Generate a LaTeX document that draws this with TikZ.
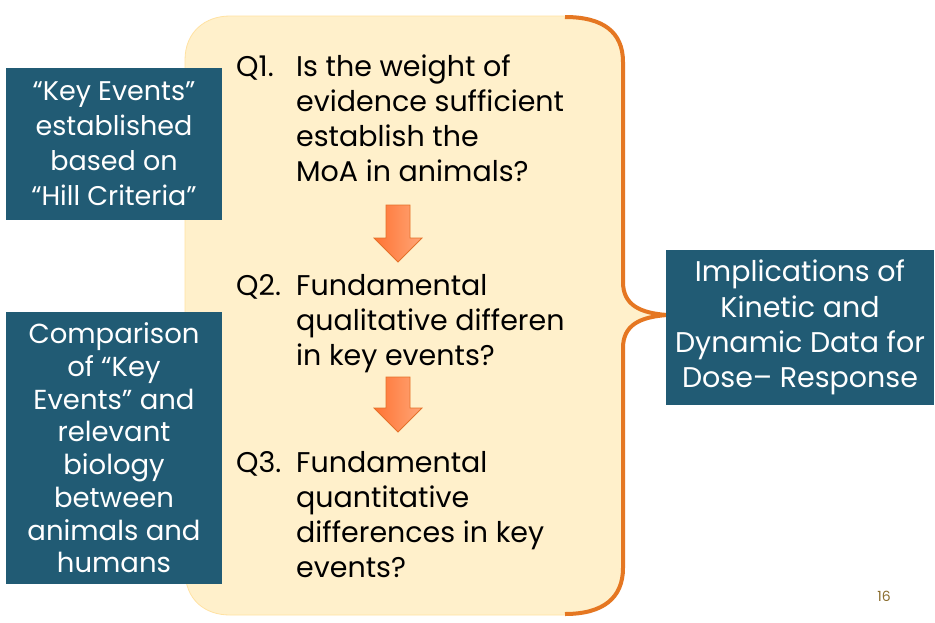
\documentclass[tikz,border=0pt]{standalone}
\usepackage{fontspec}
\setmainfont{Poppins}
\definecolor{panel}{HTML}{FFF0CB}
\definecolor{panelrim}{HTML}{FFE2A2}
\definecolor{brace}{HTML}{E57722}
\definecolor{teal}{HTML}{215B74}
\definecolor{arrowdark}{HTML}{FF7433}
\definecolor{arrowlight}{HTML}{FFA577}
\definecolor{arrowrim}{HTML}{E4712A}
\definecolor{pagenum}{HTML}{8A6D2E}
\newcommand{\qlines}[1]{\begin{tabular}[t]{@{}l@{}}#1\end{tabular}}
\tikzset{
  x=1pt, y=-1pt,
  tealbox/.style={fill=teal, draw=none, text=white, align=center, inner sep=0pt},
  qlabel/.style={anchor=base west, inner sep=0pt, text=black,
    font=\fontsize{28.5}{35}\selectfont},
  qbody/.style={anchor=base west, inner sep=0pt, text=black,
    font=\fontsize{28.5}{35}\selectfont},
  flowarrow/.style={left color=arrowdark, right color=arrowlight, draw=arrowrim, line width=0.8pt},
}
\begin{document}
\begin{tikzpicture}
\useasboundingbox (0,0) rectangle (935,622);
\fill[white] (0,0) rectangle (935,622);

% cream panel, closed along the brace on its right side
\filldraw[fill=panel, draw=panelrim, line width=0.8pt]
  (565,16) -- (230,16)
  .. controls (205,16) and (185,32) .. (185,60) -- (185,570)
  .. controls (185,600) and (205,615) .. (230,615) -- (565,615);
\fill[panel]
  (565,17) .. controls (603,17) and (623,32) .. (623,62) -- (623,282)
  .. controls (623,305) and (640,313) .. (667,315)
  .. controls (640,317) and (623,325) .. (623,348) -- (623,568)
  .. controls (623,598) and (603,614) .. (565,614)
  -- (560,614) -- (560,17) -- cycle;

% orange brace on the right
\draw[brace, line width=4pt]
  (565,17) .. controls (603,17) and (623,32) .. (623,62) -- (623,282)
  .. controls (623,305) and (640,313) .. (667,315)
  .. controls (640,317) and (623,325) .. (623,348) -- (623,568)
  .. controls (623,598) and (603,614) .. (565,614);

% boxes on the left and right
\node[tealbox, font=\fontsize{27}{35}\selectfont,
      minimum width=216pt, minimum height=152pt] (hill) at (114,144)
  {“Key Events”\\established\\based on\\“Hill Criteria”};
\node[tealbox, font=\fontsize{27.5}{32.7}\selectfont,
      minimum width=216pt, minimum height=272pt] (compare) at (114,448)
  {Comparison\\of “Key\\Events” and\\relevant\\biology\\between\\animals and\\humans};
\node[tealbox, font=\fontsize{28.5}{35.3}\selectfont,
      minimum width=268pt, minimum height=155pt] (kinetic) at (800,327.5)
  {Implications of\\Kinetic and\\Dynamic Data for\\Dose– Response};

% questions
\node[qlabel] (q1) at (236,76) {Q1.};
\node[qbody] (q1t) at (296,76) {\qlines{Is the weight of\\evidence sufficient\\establish the\\MoA in animals?}};
\node[qlabel] (q2) at (236,295) {Q2.};
\node[qbody] (q2t) at (296,295) {\qlines{Fundamental\\qualitative differen\\in key events?}};
\node[qlabel] (q3) at (236,472) {Q3.};
\node[qbody] (q3t) at (296,472) {\qlines{Fundamental\\quantitative\\differences in key\\events?}};

% down arrows between the questions
\shade[flowarrow] (386,205) -- (410,205) -- (410,238) -- (422,238) -- (398,262)
  -- (374,238) -- (386,238) -- cycle;
\shade[flowarrow] (386,377) -- (410,377) -- (410,408) -- (422,408) -- (398,432)
  -- (374,408) -- (386,408) -- cycle;

% slide number
\node[text=pagenum, font=\fontsize{14}{16}\selectfont, inner sep=0pt] (num) at (884,596) {16};
\end{tikzpicture}
\end{document}
